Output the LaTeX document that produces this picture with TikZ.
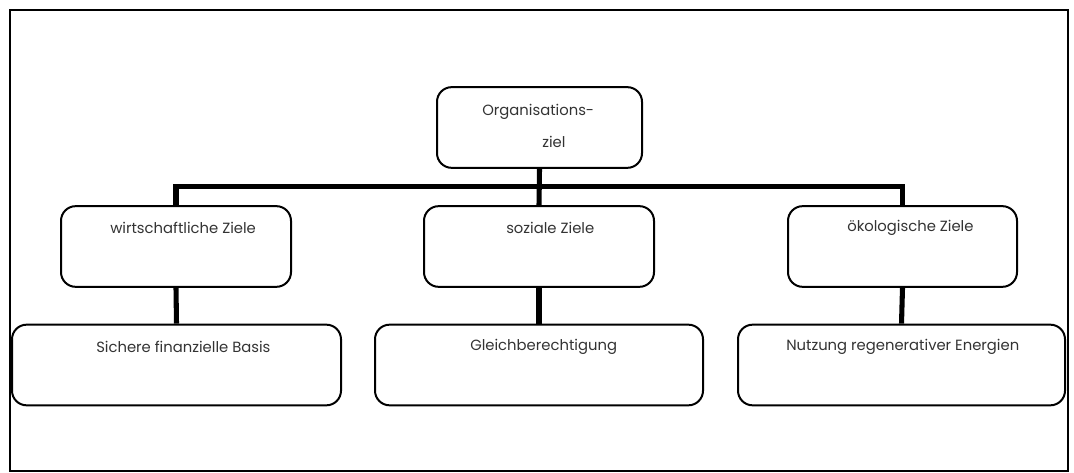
\documentclass[tikz,border=0pt]{standalone}
\usepackage{fontspec}
\setmainfont{Poppins}
\usetikzlibrary{positioning,calc}

\tikzset{
  goalbox/.style={draw, line width=1.5pt, rounded corners=11pt, minimum width=#1*0.75pt, minimum height=60.5pt, inner sep=0pt},
  goaltext/.style={anchor=west, inner sep=0pt, text=black!80, font=\fontsize{11.1}{13}\selectfont},
  bar/.style={line width=3.8pt, line join=miter}
}

\begin{document}
\begin{tikzpicture}[x=0.75pt,y=-0.75pt]
    \useasboundingbox (0,0) rectangle (1074,473);
    \draw[line width=1.1pt] (10,10) rectangle (1068,471);

    % top
    \node[goalbox=205] (org) at (539.5,127.5) {};
    \node[goaltext] (orgA) at (482,112) {Organisations-};
    \node[goaltext] (orgB) at (542,142) {ziel};

    % goals
    \node[goalbox=230] (wirt) at (176,246.5) {};
    \node[goalbox=230] (soz) at (539,246.5) {};
    \node[goalbox=229] (oek) at (902.5,246.5) {};
    \node[goaltext] (wirtT) at (110,228) {wirtschaftliche Ziele};
    \node[goaltext] (sozT) at (506,228) {soziale Ziele};
    \node[goaltext] (oekT) at (847,228) {ökologische Ziele};

    % measures
    \node[goalbox=329] (sich) at (176.5,365) {};
    \node[goalbox=328] (gleich) at (539,365) {};
    \node[goalbox=327] (nutz) at (901.5,365) {};
    \node[goaltext] (sichT) at (96,347) {Sichere finanzielle Basis};
    \node[goaltext] (gleichT) at (470,347) {Gleichberechtigung};
    \node[goaltext] (nutzT) at (786,347) {Nutzung regenerativer Energien};

    % connectors
    \draw[bar] (wirt.north) -- ++(0,-19) -| (oek.north);
    \draw[bar] (org.south) -- (soz.north);
    \draw[bar] (wirt.south) -- (sich.north);
    \draw[bar] (soz.south) -- (gleich.north);
    \draw[bar] (oek.south) -- (nutz.north);
\end{tikzpicture}
\end{document}
